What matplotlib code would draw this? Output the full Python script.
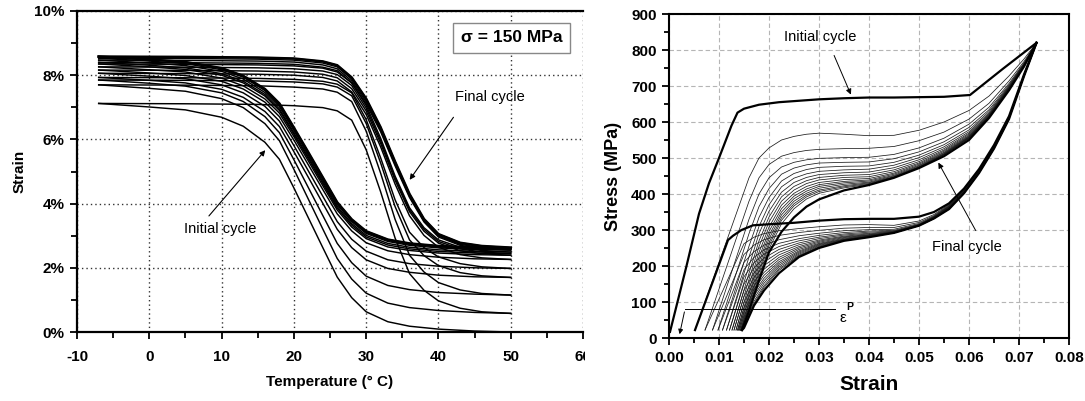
import matplotlib
matplotlib.use('Agg')
import matplotlib.pyplot as plt
from matplotlib.patches import Rectangle
from matplotlib.ticker import MultipleLocator, FuncFormatter

plt.rcParams['font.family'] = ['Liberation Sans', 'DejaVu Sans']
plt.rcParams['font.weight'] = 'bold'
plt.rcParams['axes.unicode_minus'] = False

# ---- left panel: strain vs temperature under 150 MPa ----
temp_cool = [-7, 0, 5, 10, 13, 16, 18, 20, 22, 24, 26, 28, 30, 33, 36, 40, 45, 50]
strain_cool = [
    [7.12, 7.01, 6.92, 6.69, 6.41, 5.91, 5.38, 4.49, 3.56, 2.63, 1.71, 1.07, 0.63, 0.32, 0.18, 0.09, 0.03, 0.00],
    [7.70, 7.59, 7.50, 7.27, 6.99, 6.49, 5.96, 5.07, 4.14, 3.21, 2.29, 1.65, 1.21, 0.90, 0.76, 0.67, 0.61, 0.58],
    [7.85, 7.75, 7.66, 7.45, 7.18, 6.71, 6.21, 5.37, 4.50, 3.63, 2.76, 2.16, 1.74, 1.45, 1.32, 1.23, 1.18, 1.15],
    [7.93, 7.84, 7.76, 7.56, 7.31, 6.87, 6.40, 5.62, 4.82, 4.01, 3.20, 2.63, 2.25, 1.98, 1.86, 1.77, 1.72, 1.70],
    [8.06, 7.97, 7.89, 7.70, 7.45, 7.03, 6.57, 5.81, 5.02, 4.23, 3.44, 2.89, 2.52, 2.25, 2.13, 2.05, 2.00, 1.98],
    [8.16, 8.07, 7.99, 7.81, 7.57, 7.16, 6.71, 5.98, 5.21, 4.44, 3.68, 3.15, 2.78, 2.53, 2.41, 2.33, 2.28, 2.26],
    [8.26, 8.17, 8.10, 7.91, 7.67, 7.26, 6.82, 6.09, 5.33, 4.56, 3.80, 3.27, 2.91, 2.65, 2.54, 2.46, 2.41, 2.39],
    [8.35, 8.26, 8.18, 8.00, 7.76, 7.35, 6.90, 6.16, 5.40, 4.63, 3.86, 3.33, 2.96, 2.71, 2.59, 2.51, 2.46, 2.44],
    [8.40, 8.31, 8.23, 8.05, 7.81, 7.40, 6.95, 6.21, 5.45, 4.68, 3.91, 3.38, 3.01, 2.76, 2.64, 2.56, 2.51, 2.49],
    [8.47, 8.38, 8.30, 8.12, 7.88, 7.46, 7.02, 6.28, 5.51, 4.74, 3.97, 3.44, 3.07, 2.82, 2.70, 2.62, 2.57, 2.55],
    [8.53, 8.44, 8.36, 8.17, 7.94, 7.52, 7.07, 6.33, 5.56, 4.78, 4.01, 3.47, 3.10, 2.85, 2.73, 2.65, 2.60, 2.58],
    [8.58, 8.49, 8.41, 8.22, 7.98, 7.57, 7.12, 6.37, 5.60, 4.82, 4.04, 3.51, 3.14, 2.88, 2.76, 2.68, 2.63, 2.61],
]
temp_heat = [-7, 5, 15, 20, 24, 26, 28, 30, 32, 34, 36, 38, 40, 43, 46, 50]
strain_heat = [
    [7.12, 7.11, 7.09, 7.05, 6.99, 6.89, 6.60, 5.68, 4.37, 2.93, 1.82, 1.30, 0.97, 0.74, 0.63, 0.58],
    [7.70, 7.69, 7.67, 7.63, 7.57, 7.47, 7.18, 6.26, 4.95, 3.51, 2.39, 1.87, 1.54, 1.31, 1.20, 1.15],
    [7.85, 7.84, 7.82, 7.79, 7.73, 7.63, 7.36, 6.50, 5.27, 3.91, 2.87, 2.38, 2.07, 1.85, 1.75, 1.70],
    [7.93, 7.92, 7.90, 7.87, 7.81, 7.72, 7.45, 6.62, 5.43, 4.12, 3.11, 2.63, 2.34, 2.13, 2.03, 1.98],
    [8.06, 8.05, 8.03, 8.00, 7.93, 7.82, 7.48, 6.78, 5.77, 4.61, 3.62, 3.01, 2.64, 2.41, 2.31, 2.26],
    [8.16, 8.15, 8.13, 8.10, 8.03, 7.92, 7.58, 6.89, 5.88, 4.73, 3.75, 3.14, 2.77, 2.53, 2.44, 2.39],
    [8.26, 8.25, 8.23, 8.20, 8.13, 8.02, 7.68, 6.98, 5.96, 4.80, 3.81, 3.20, 2.82, 2.59, 2.49, 2.44],
    [8.35, 8.34, 8.32, 8.29, 8.22, 8.10, 7.76, 7.06, 6.04, 4.86, 3.87, 3.25, 2.87, 2.64, 2.54, 2.49],
    [8.40, 8.39, 8.37, 8.34, 8.25, 8.14, 7.76, 7.11, 6.24, 5.18, 4.19, 3.43, 2.96, 2.70, 2.60, 2.55],
    [8.47, 8.46, 8.44, 8.41, 8.32, 8.20, 7.82, 7.17, 6.29, 5.23, 4.23, 3.46, 2.99, 2.73, 2.63, 2.58],
    [8.53, 8.52, 8.50, 8.47, 8.38, 8.26, 7.88, 7.23, 6.34, 5.27, 4.27, 3.50, 3.02, 2.76, 2.66, 2.61],
    [8.58, 8.57, 8.55, 8.52, 8.43, 8.31, 7.93, 7.27, 6.38, 5.31, 4.30, 3.52, 3.05, 2.78, 2.68, 2.63],
]

# ---- right panel: cyclic stress-strain ----
init_load_strain = [0.0002, 0.0035, 0.0060, 0.0080, 0.0100, 0.0125, 0.0137, 0.0150, 0.018, 0.022, 0.026,
                    0.030, 0.035, 0.040, 0.045, 0.050, 0.055, 0.0602, 0.0668, 0.0735]
init_load_stress = [17, 200, 345, 430, 500, 590, 626, 637, 648, 655, 659, 663, 666, 668, 668, 669, 670, 675, 748, 820]
init_unload_strain = [0.0735, 0.071, 0.068, 0.065, 0.062, 0.059, 0.056, 0.053, 0.050, 0.045, 0.040,
                      0.035, 0.030, 0.025, 0.020, 0.0168, 0.0145, 0.0128, 0.0118, 0.0052]
init_unload_stress = [820, 732, 616, 536, 469, 415, 374, 350, 337, 331, 331, 330, 326, 320, 316, 313, 300, 284, 272, 22]

load_start = [0.0052, 0.0072, 0.0087, 0.0098, 0.0107, 0.0115, 0.0121, 0.0126, 0.0130,
              0.0134, 0.0137, 0.0139, 0.0141, 0.0143, 0.0144, 0.0145, 0.0146]
load_grid = [0.016, 0.018, 0.020, 0.0225, 0.025, 0.0275, 0.030, 0.035, 0.040, 0.045,
             0.050, 0.055, 0.060, 0.064, 0.068, 0.071, 0.0735]
load_stress = [
    [445, 500, 528, 550, 560, 566, 569, 566, 562, 563, 577, 600, 632, 672, 728, 775, 820],
    [380, 445, 482, 505, 515, 521, 524, 526, 527, 532, 548, 572, 608, 652, 714, 768, 820],
    [330, 400, 445, 475, 488, 495, 499, 501, 502, 510, 528, 555, 594, 641, 707, 764, 820],
    [290, 365, 415, 455, 472, 481, 486, 488, 489, 498, 517, 545, 585, 634, 703, 762, 820],
    [255, 335, 390, 436, 457, 468, 474, 477, 478, 488, 508, 537, 578, 629, 700, 761, 820],
    [225, 310, 370, 420, 444, 456, 463, 467, 469, 480, 501, 531, 573, 625, 698, 760, 820],
    [200, 290, 352, 405, 432, 446, 454, 459, 461, 473, 495, 526, 569, 622, 696, 759, 820],
    [180, 270, 336, 392, 421, 437, 446, 452, 454, 467, 490, 522, 566, 620, 695, 758, 820],
    [163, 254, 322, 380, 411, 429, 439, 446, 448, 462, 486, 519, 563, 618, 694, 758, 820],
    [147, 238, 308, 369, 402, 421, 432, 440, 443, 458, 483, 516, 561, 617, 693, 757, 820],
    [133, 224, 296, 359, 394, 414, 426, 435, 439, 455, 480, 514, 559, 616, 692, 757, 820],
    [122, 212, 285, 350, 387, 408, 421, 431, 436, 452, 478, 512, 558, 615, 692, 757, 820],
    [112, 201, 275, 342, 380, 402, 416, 427, 433, 450, 476, 511, 557, 615, 691, 756, 820],
    [101, 190, 265, 334, 373, 397, 411, 423, 431, 448, 475, 510, 556, 614, 691, 756, 820],
    [94, 182, 257, 327, 367, 392, 407, 420, 429, 447, 474, 509, 555, 614, 690, 756, 820],
    [86, 172, 248, 317, 359, 386, 402, 417, 427, 446, 473, 509, 554, 613, 690, 755, 820],
    [75, 160, 238, 295, 335, 365, 385, 410, 425, 445, 472, 505, 550, 611, 688, 754, 820],
]
unload_grid = [0.0735, 0.071, 0.068, 0.065, 0.062, 0.059, 0.056, 0.053, 0.050, 0.045,
               0.040, 0.035, 0.030, 0.026, 0.022, 0.019, 0.017, 0.015]
unload_end = [0.0072, 0.0087, 0.0098, 0.0107, 0.0115, 0.0121, 0.0126, 0.0130, 0.0134,
              0.0137, 0.0139, 0.0141, 0.0143, 0.0144, 0.0145, 0.0146, 0.0146]
unload_stress = [
    [820, 731, 615, 534, 467, 413, 371, 343, 325, 313, 315, 314, 309, 304, 298, 290, 280, 262],
    [820, 730, 614, 533, 466, 411, 369, 340, 321, 307, 307, 305, 299, 293, 285, 273, 258, 232],
    [820, 730, 613, 532, 465, 410, 367, 338, 318, 302, 301, 298, 291, 284, 273, 258, 240, 210],
    [820, 729, 613, 531, 464, 409, 366, 337, 316, 299, 297, 293, 285, 276, 263, 245, 224, 190],
    [820, 729, 612, 531, 463, 408, 365, 336, 315, 297, 294, 289, 280, 270, 254, 233, 209, 170],
    [820, 729, 612, 530, 463, 407, 364, 335, 314, 296, 291, 286, 276, 264, 246, 222, 195, 150],
    [820, 728, 611, 530, 462, 406, 363, 335, 313, 295, 289, 283, 272, 259, 238, 211, 181, 132],
    [820, 728, 611, 529, 462, 406, 362, 334, 313, 294, 287, 281, 269, 254, 231, 201, 168, 115],
    [820, 728, 611, 529, 461, 405, 361, 334, 312, 294, 286, 279, 266, 250, 224, 191, 156, 99],
    [820, 728, 610, 528, 461, 405, 361, 333, 312, 293, 285, 277, 263, 246, 218, 182, 145, 84],
    [820, 728, 610, 528, 460, 404, 360, 333, 312, 293, 284, 275, 261, 242, 212, 174, 135, 71],
    [820, 727, 609, 527, 460, 404, 360, 333, 312, 293, 283, 274, 259, 239, 207, 166, 126, 60],
    [820, 727, 609, 527, 459, 403, 359, 332, 312, 292, 282, 273, 257, 236, 202, 159, 118, 50],
    [820, 727, 609, 527, 459, 403, 359, 332, 312, 292, 281, 272, 255, 233, 197, 152, 110, 42],
    [820, 727, 608, 526, 458, 402, 358, 332, 312, 292, 281, 271, 253, 230, 192, 145, 102, 35],
    [820, 727, 608, 526, 458, 402, 358, 332, 312, 292, 280, 270, 252, 228, 188, 140, 96, 30],
    [820, 727, 608, 526, 458, 402, 358, 332, 312, 292, 280, 270, 250, 225, 180, 132, 90, 28],
]
residual_stress = 22

W, H = 1085, 401
fig = plt.figure(figsize=(W / 100, H / 100), dpi=100)
ax1 = fig.add_axes([77 / W, 69 / H, 506 / W, 321 / H])
ax2 = fig.add_axes([669 / W, 63 / H, 400 / W, 324 / H])
ax1.set_zorder(0)
ax2.set_zorder(2)
# the left chart is cropped just past 60 in the original
fig.add_artist(Rectangle((585 / W, 0), 1 - 585 / W, 1, transform=fig.transFigure,
                         fc='white', ec='none', zorder=1))

# ---- left ----
for row in strain_cool:
    ax1.plot(temp_cool, row, color='k', lw=1.05)
for row in strain_heat:
    ax1.plot(temp_heat, row, color='k', lw=1.05)
ax1.plot(temp_cool, strain_cool[-1], color='k', lw=1.8)
ax1.plot(temp_heat, strain_heat[-1], color='k', lw=1.8)

ax1.set_xlim(-10, 60)
ax1.set_ylim(0, 10)
ax1.xaxis.set_major_locator(MultipleLocator(10))
ax1.xaxis.set_minor_locator(MultipleLocator(5))
ax1.yaxis.set_major_locator(MultipleLocator(2))
ax1.yaxis.set_minor_locator(MultipleLocator(1))
ax1.yaxis.set_major_formatter(FuncFormatter(lambda v, p: '%d%%' % v))
ax1.grid(True, which='major', color='#333333', lw=1.0, ls=(0, (1, 2.2)))
ax1.spines['right'].set_visible(False)
for s in ['left', 'bottom', 'top']:
    ax1.spines[s].set_linewidth(1.6)
ax1.tick_params(which='both', direction='out', width=1.3, top=False, right=False)
ax1.tick_params(which='major', length=5, labelsize=11)
ax1.tick_params(which='minor', length=4)
ax1.tick_params(axis='x', pad=8)
ax1.tick_params(axis='y', pad=4)
ax1.set_xlabel('Temperature (° C)', fontsize=11, fontweight='bold')
ax1.set_ylabel('Strain', fontsize=11, fontweight='bold')
ax1.xaxis.set_label_coords(0.5, -0.135)
ax1.yaxis.set_label_coords(-0.1, 0.5)

ax1.text(50.1, 9.16, 'σ = 150 MPa', ha='center', va='center', fontsize=12.5, fontweight='bold',
         bbox=dict(boxstyle='square,pad=0.45', fc='white', ec='#888888', lw=1.0))
ax1.annotate('', xy=(35.8, 4.67), xytext=(42.3, 6.76),
             arrowprops=dict(arrowstyle='-|>', color='k', lw=0.8, mutation_scale=8))
ax1.text(47.1, 7.32, 'Final cycle', ha='center', va='center', fontsize=10.5, fontweight='normal')
ax1.annotate('', xy=(16.3, 5.73), xytext=(8.0, 3.55),
             arrowprops=dict(arrowstyle='-|>', color='k', lw=0.8, mutation_scale=8))
ax1.text(9.8, 3.21, 'Initial cycle', ha='center', va='center', fontsize=10.5, fontweight='normal')

# ---- right ----
thin = dict(color='#1a1a1a', lw=0.55)
for r, row in zip(load_start, load_stress[:-1]):
    ax2.plot([r] + load_grid, [residual_stress] + row, **thin)
for e, row in zip(unload_end, unload_stress[:-1]):
    ax2.plot(unload_grid + [e], row + [residual_stress], **thin)
ax2.plot(init_load_strain, init_load_stress, color='k', lw=1.6)
ax2.plot(init_unload_strain, init_unload_stress, color='k', lw=1.6)
ax2.plot([load_start[-1]] + load_grid, [residual_stress] + load_stress[-1], color='k', lw=1.6)
ax2.plot(unload_grid + [unload_end[-1]], unload_stress[-1] + [residual_stress], color='k', lw=1.6)

ax2.set_xlim(0, 0.08)
ax2.set_ylim(0, 900)
ax2.xaxis.set_major_locator(MultipleLocator(0.01))
ax2.xaxis.set_minor_locator(MultipleLocator(0.005))
ax2.yaxis.set_major_locator(MultipleLocator(100))
ax2.yaxis.set_minor_locator(MultipleLocator(50))
ax2.xaxis.set_major_formatter(FuncFormatter(lambda v, p: '%.2f' % v))
ax2.grid(True, which='major', color='#b5b5b5', lw=0.8, ls=(0, (4, 2.5)))
for s in ax2.spines.values():
    s.set_linewidth(1.5)
ax2.tick_params(which='both', direction='out', width=1.3, top=False, right=False)
ax2.tick_params(which='major', length=5, labelsize=11, pad=4)
ax2.tick_params(which='minor', length=3.5)
ax2.set_xlabel('Strain', fontsize=15, fontweight='bold')
ax2.set_ylabel('Stress (MPa)', fontsize=13, fontweight='bold')
ax2.xaxis.set_label_coords(0.5, -0.115)
ax2.yaxis.set_label_coords(-0.118, 0.5)

ax2.annotate('', xy=(0.0366, 669), xytext=(0.0328, 792),
             arrowprops=dict(arrowstyle='-|>', color='k', lw=0.7, mutation_scale=8))
ax2.text(0.0302, 836, 'Initial cycle', ha='center', va='center', fontsize=10.5, fontweight='normal')
ax2.annotate('', xy=(0.0536, 494), xytext=(0.0616, 292),
             arrowprops=dict(arrowstyle='-|>', color='k', lw=0.7, mutation_scale=8))
ax2.text(0.0596, 253, 'Final cycle', ha='center', va='center', fontsize=10.5, fontweight='normal')

ax2.plot([0.0032, 0.0332], [80, 80], color='k', lw=0.7)
ax2.annotate('', xy=(0.0020, 3), xytext=(0.0032, 80),
             arrowprops=dict(arrowstyle='-|>', color='k', lw=0.7, mutation_scale=7))
ax2.text(0.0348, 56, 'ε', ha='center', va='center', fontsize=11, fontweight='normal')
ax2.text(0.0362, 86, 'P', ha='center', va='center', fontsize=7.5, fontweight='bold')

fig.savefig('out.png', dpi=100)
